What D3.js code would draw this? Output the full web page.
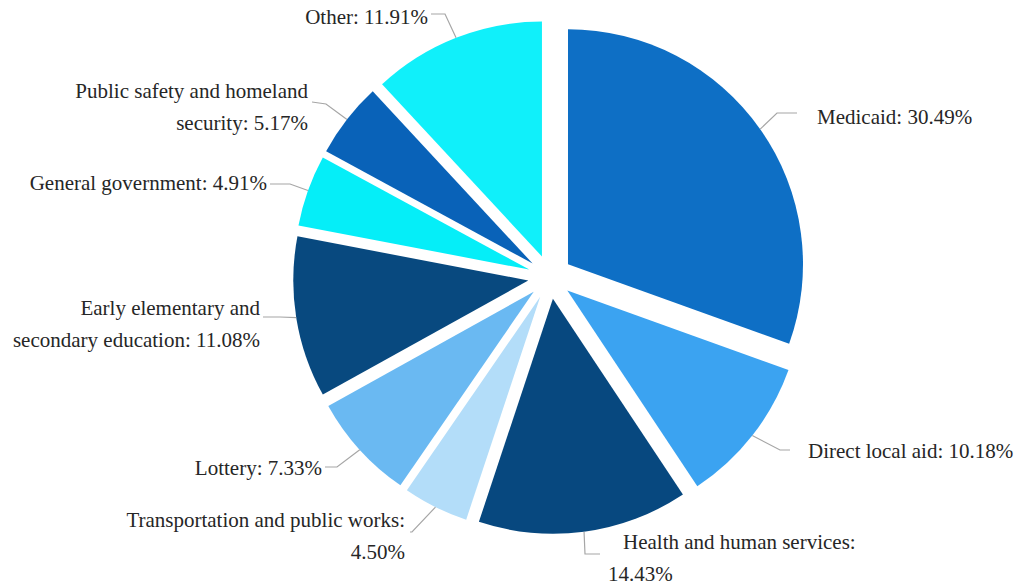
<!DOCTYPE html>
<html>
<head>
  <meta charset="utf-8">
  <title>Budget shares</title>
  <style>
    body { margin: 0; background: #fff; }
    text { font-family: "Liberation Serif", "Times New Roman", serif; font-size: 21px; fill: #262626; }
  </style>
</head>
<body>
<div id="chart"></div>
<script src="https://d3js.org/d3.v7.min.js"></script>
<script>
  // data (percent shares, clockwise from 12 o'clock)
  const categories = ["Medicaid", "Direct local aid", "Health and human services",
    "Transportation and public works", "Lottery", "Early elementary and secondary education",
    "General government", "Public safety and homeland security", "Other"];
  const shares = [30.49, 10.18, 14.43, 4.50, 7.33, 11.08, 4.91, 5.17, 11.91];
  const colors = ["#0e6fc5", "#3ba3f1", "#07487f", "#b3ddf9", "#6ab9f2",
    "#08497f", "#05eef8", "#0962b8", "#10f0fa"];

  const WIDTH = 1020, HEIGHT = 585;
  const CX = 550, CY = 277, RADIUS = 235, EXPLODE = 22;
  const LINE_HEIGHT = 32;

  // label layout: first-line word count, anchor, text position, leader bend + end
  const labelLayout = [
    { words: 0, anchor: "start", x: 817, y: 124, bend: [777, 113], end: [797, 113] },
    { words: 0, anchor: "start", x: 808, y: 458, bend: [780, 450], end: [790, 450] },
    { words: 4, anchor: "start", x: 623, x2: 608, y: 549, bend: [585, 554], end: [600, 554] },
    { words: 4, anchor: "end", x: 405, y: 527, bend: [412, 532], end: [410, 532] },
    { words: 0, anchor: "end", x: 322, y: 475, bend: [337, 467], end: [325, 467] },
    { words: 3, anchor: "end", x: 260, y: 315, bend: [280, 317], end: [263, 317] },
    { words: 0, anchor: "end", x: 267, y: 190, bend: [290, 184], end: [270, 184] },
    { words: 4, anchor: "end", x: 308, y: 98, bend: [326, 104], end: [312, 102] },
    { words: 0, anchor: "end", x: 428, y: 24, bend: [445, 14], end: [431, 14] }
  ];

  const data = categories.map(function (c, i) { return { name: c, value: shares[i], i: i }; });

  const svg = d3.select("#chart").append("svg")
    .attr("width", WIDTH).attr("height", HEIGHT);

  const pie = d3.pie().sort(null).value(function (d) { return d.value; });
  const arc = d3.arc().innerRadius(0).outerRadius(RADIUS);
  const arcs = pie(data);

  function offset(d, dist) {
    const a = (d.startAngle + d.endAngle) / 2;
    return [Math.sin(a) * dist, -Math.cos(a) * dist];
  }

  const g = svg.append("g").attr("transform", "translate(" + CX + "," + CY + ")");

  g.selectAll("path.slice")
    .data(arcs)
    .enter().append("path")
    .attr("class", "slice")
    .attr("d", arc)
    .attr("transform", function (d) { const o = offset(d, EXPLODE); return "translate(" + o[0] + "," + o[1] + ")"; })
    .attr("fill", function (d) { return colors[d.data.i]; });

  // leader lines
  svg.selectAll("path.leader")
    .data(arcs)
    .enter().append("path")
    .attr("class", "leader")
    .attr("fill", "none")
    .attr("stroke", "#a6a6a6")
    .attr("stroke-width", 1.2)
    .attr("d", function (d) {
      const o = offset(d, EXPLODE + RADIUS);
      const L = labelLayout[d.data.i];
      return d3.line()([[CX + o[0], CY + o[1]], L.bend, L.end]);
    });

  // labels
  svg.selectAll("text.label")
    .data(arcs)
    .enter().append("text")
    .attr("class", "label")
    .attr("text-anchor", function (d) { return labelLayout[d.data.i].anchor; })
    .each(function (d) {
      const L = labelLayout[d.data.i];
      const full = d.data.name + ": " + d.data.value.toFixed(2) + "%";
      const el = d3.select(this);
      if (!L.words) {
        el.append("tspan").attr("x", L.x).attr("y", L.y).text(full);
      } else {
        const w = full.split(" ");
        el.append("tspan").attr("x", L.x).attr("y", L.y).text(w.slice(0, L.words).join(" "));
        el.append("tspan").attr("x", L.x2 || L.x).attr("y", L.y + LINE_HEIGHT).text(w.slice(L.words).join(" "));
      }
    });
</script>
</body>
</html>
